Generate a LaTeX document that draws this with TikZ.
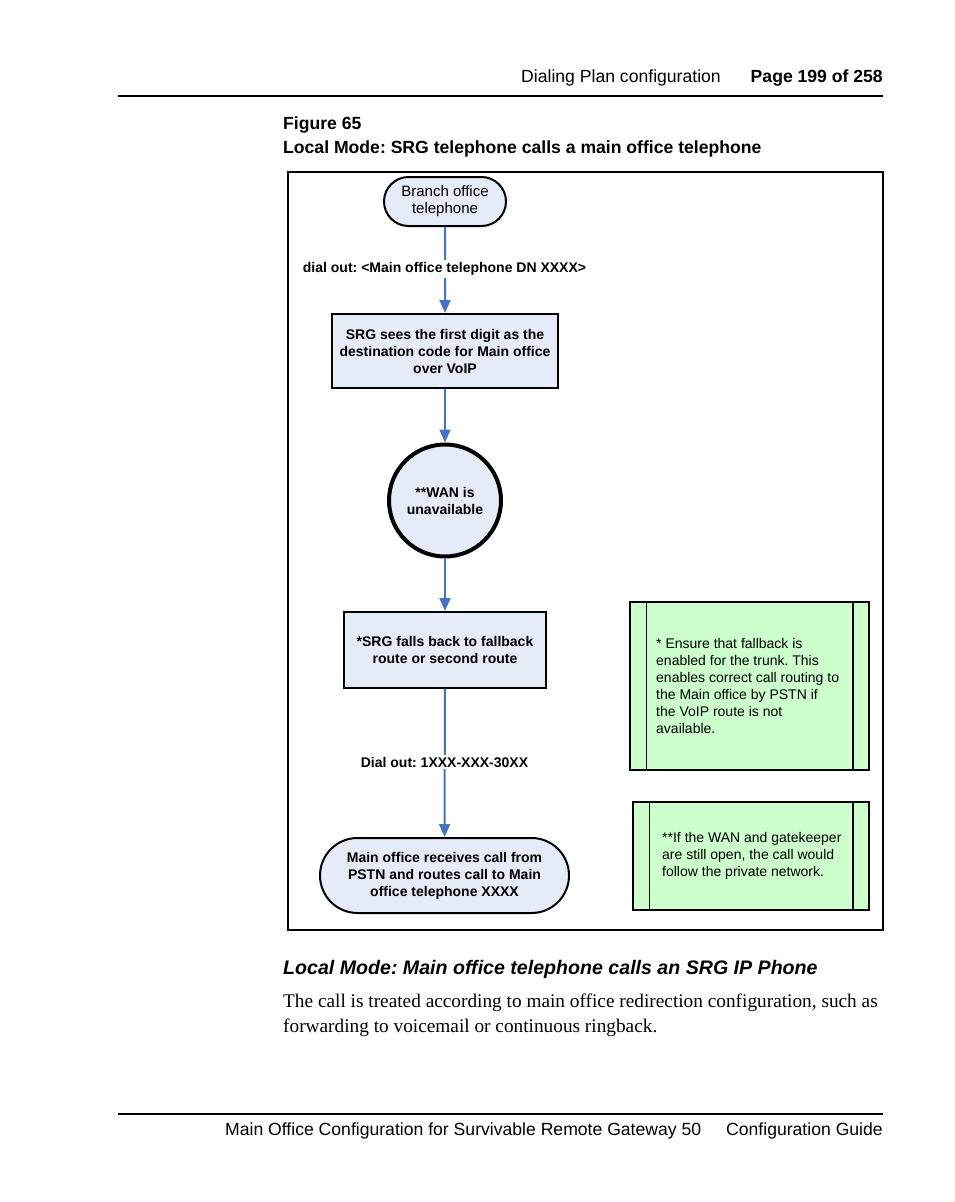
\documentclass[tikz,border=0pt]{standalone}
\usepackage{fontspec}
\setmainfont{Liberation Serif}
\setsansfont{Liberation Sans}
\usetikzlibrary{arrows.meta,shapes.misc}
\definecolor{boxblue}{HTML}{E6ECF7}
\definecolor{notegreen}{HTML}{CCFFCC}
\definecolor{arrowblue}{HTML}{4472C4}
\frenchspacing
\begin{document}
\begin{tikzpicture}[x=1pt,y=-1pt,
  pagetext/.style={inner sep=0pt,font=\sffamily\fontsize{17.6}{20}\selectfont},
  bodytext/.style={inner sep=0pt,anchor=base west,font=\rmfamily\fontsize{19.3}{25}\selectfont},
  flowbox/.style={draw=black,line width=2pt,fill=boxblue,align=center,inner sep=2pt,
    font=\sffamily\bfseries\fontsize{14}{17}\selectfont},
  pill/.style={flowbox,rounded rectangle},
  notebox/.style={draw=black,line width=1.5pt,fill=notegreen,inner sep=0pt},
  notetext/.style={inner sep=0pt,anchor=west,align=left,font=\sffamily\fontsize{14}{17}\selectfont},
  flowarrow/.style={draw=arrowblue,line width=2pt,-{Triangle[width=11pt,length=13pt]}},
  arrowlabel/.style={fill=white,inner sep=2pt,font=\sffamily\bfseries\fontsize{14}{17}\selectfont}
]
\useasboundingbox (0,0) rectangle (954,1202);
\fill[white] (0,0) rectangle (954,1202);

% header
\node[pagetext,anchor=base east] (hdr) at (721,82) {Dialing Plan configuration};
\node[pagetext,anchor=base east,font=\sffamily\bfseries\fontsize{17.6}{20}\selectfont] (pg) at (883,82) {Page 199 of 258};
\draw[line width=2pt] (118,96) -- (883,96);

% figure caption
\node[pagetext,anchor=base west,font=\sffamily\bfseries\fontsize{17.6}{20}\selectfont] (fig) at (283,129) {Figure 65};
\node[pagetext,anchor=base west,font=\sffamily\bfseries\fontsize{17.6}{20}\selectfont] (cap) at (283,153) {Local Mode: SRG telephone calls a main office telephone};

% frame
\draw[line width=1.5pt] (288,172) rectangle (883,930);

% flow nodes
\node[pill,minimum width=126pt,minimum height=49pt,font=\sffamily\fontsize{15}{17}\selectfont] (branch) at (445,201.5) {Branch office\\telephone};
\node[flowbox,rectangle,minimum width=226pt,minimum height=74pt] (srg) at (445,351) {SRG sees the first digit as the\\destination code for Main office\\over VoIP};
\node[flowbox,circle,line width=4pt,minimum size=112pt] (wan) at (445,500.5) {**WAN is\\unavailable};
\node[flowbox,rectangle,minimum width=202pt,minimum height=76pt] (fallback) at (445,650) {*SRG falls back to fallback\\route or second route};
\node[pill,minimum width=253pt,minimum height=75pt] (mainoff) at (444.5,875.5) {Main office receives call from\\PSTN and routes call to Main\\office telephone XXXX};

% connectors
\draw[flowarrow] (branch) -- (srg);
\draw[flowarrow] (srg) -- (wan);
\draw[flowarrow] (wan) -- (fallback);
\draw[flowarrow] (fallback) -- (mainoff);
\node[arrowlabel] (lbl1) at (444.5,269) {dial out: <Main office telephone DN XXXX>};
\node[arrowlabel] (lbl2) at (444.5,762) {Dial out: 1XXX-XXX-30XX};

% notes
\node[notebox,minimum width=239pt,minimum height=168pt] (note1) at (749.5,686) {};
\draw[line width=1.5pt] ([xshift=17pt]note1.north west) -- ([xshift=17pt]note1.south west);
\draw[line width=1.5pt] ([xshift=-17pt]note1.north east) -- ([xshift=-17pt]note1.south east);
\node[notetext] (note1txt) at (656,686) {* Ensure that fallback is\\enabled for the trunk. This\\enables correct call routing to\\the Main office by PSTN if\\the VoIP route is not\\available.};

\node[notebox,minimum width=236pt,minimum height=108pt] (note2) at (751,856) {};
\draw[line width=1.5pt] ([xshift=17pt]note2.north west) -- ([xshift=17pt]note2.south west);
\draw[line width=1.5pt] ([xshift=-17pt]note2.north east) -- ([xshift=-17pt]note2.south east);
\node[notetext] (note2txt) at (662,856) {**If the WAN and gatekeeper\\are still open, the call would\\follow the private network.};

% following section
\node[pagetext,anchor=base west,font=\sffamily\bfseries\itshape\fontsize{19.6}{22}\selectfont] (sec) at (283,974) {Local Mode: Main office telephone calls an SRG IP Phone};
\node[bodytext] (body1) at (283,1007) {The call is treated according to main office redirection configuration, such as};
\node[bodytext] (body2) at (283,1032) {forwarding to voicemail or continuous ringback.};

% footer
\draw[line width=2pt] (118,1114) -- (883,1114);
\node[pagetext,anchor=base east] (foot) at (883,1135) {Main Office Configuration for Survivable Remote Gateway 50\hspace{25pt}Configuration Guide};
\end{tikzpicture}
\end{document}
